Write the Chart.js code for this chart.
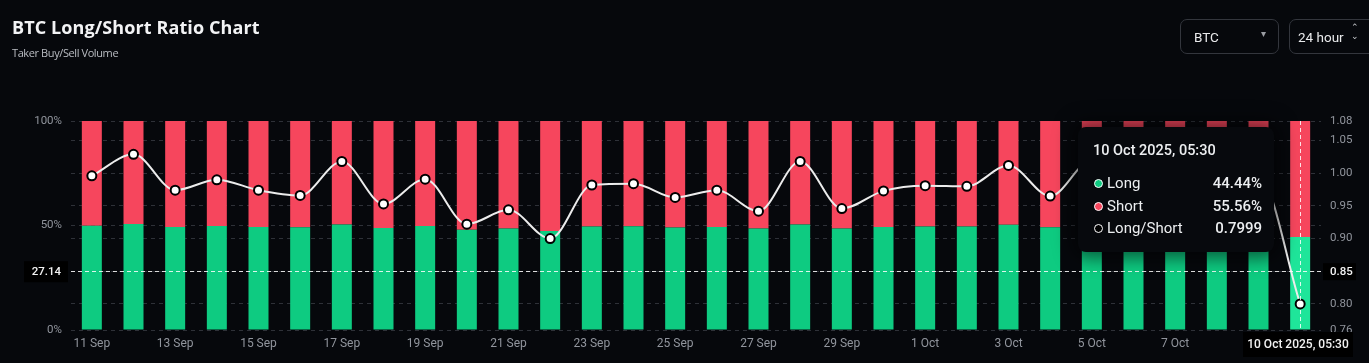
<!DOCTYPE html>
<html>
<head>
<meta charset="utf-8">
<script src="https://cdn.jsdelivr.net/npm/chart.js@4.4.1/dist/chart.umd.min.js"></script>
<style>
  html, body { margin: 0; padding: 0; background: #06080c; }
  body { width: 1369px; height: 363px; position: relative; overflow: hidden; font-family: Roboto, "Noto Sans", sans-serif; }
  #chartWrap { position: absolute; left: 0; top: 0; width: 1369px; height: 363px; }
  .title { position: absolute; left: 12px; top: 15px; color: #f2f3f5; font: 700 18px "Open Sans", sans-serif; letter-spacing: 0.1px; }
  .subtitle { position: absolute; left: 12px; top: 45px; color: #b9bcc2; font: 400 11px "Open Sans", sans-serif; letter-spacing: -0.4px; }
  .select { position: absolute; top: 19px; height: 35px; border: 1px solid #33363d; border-radius: 7px; color: #e9eaec; font: 400 13.5px Roboto, sans-serif; box-sizing: border-box; }
  .select span { position: absolute; top: 9px; }
  .tip { position: absolute; left: 1078px; top: 127px; width: 196px; height: 125px; background: #07090d; border-radius: 8px;
         box-shadow: 0 0 18px 6px rgba(0,0,0,0.55); color: #eceef0; font-family: Roboto, sans-serif; box-sizing: border-box; }
  .tip .t { position: absolute; left: 15px; top: 15px; font-size: 14.5px; font-weight: 500; }
  .tip .row { position: absolute; left: 15px; right: 12px; height: 18px; font-size: 15px; }
  .tip .row .dot { position: absolute; left: 1px; top: 5px; width: 7px; height: 7px; border-radius: 50%; border: 1.5px solid #fff; }
  .tip .row .lab { position: absolute; left: 14px; top: 0; }
  .tip .row .val { position: absolute; right: 0; top: 0; font-weight: 500; }
</style>
</head>
<body>
<div id="chartWrap"><canvas id="ratioChart" width="1369" height="363"></canvas></div>
<div class="title">BTC Long/Short Ratio Chart</div>
<div class="subtitle">Taker Buy/Sell Volume</div>
<div class="select" style="left:1180px;width:99px;"><span style="left:13px;">BTC</span><span style="left:80px;top:8px;color:#9a9da3;font-size:10px;">&#9662;</span></div>
<div class="select" style="left:1289px;width:90px;"><span style="left:8px;">24 hour</span><span style="left:61px;top:3px;color:#c9cbcf;font-size:9px;line-height:9px;">&#8963;<br>&#8964;</span></div>
<div class="tip" id="tip"></div>

<script>
const dates = ['11 Sep','12 Sep','13 Sep','14 Sep','15 Sep','16 Sep','17 Sep','18 Sep','19 Sep','20 Sep',
  '21 Sep','22 Sep','23 Sep','24 Sep','25 Sep','26 Sep','27 Sep','28 Sep','29 Sep','30 Sep',
  '1 Oct','2 Oct','3 Oct','4 Oct','5 Oct','6 Oct','7 Oct','8 Oct','9 Oct','10 Oct'];

const longPct = [49.90, 50.71, 49.34, 49.75, 49.34, 49.14, 50.45, 48.80, 49.77, 47.97,
  48.56, 47.37, 49.55, 49.60, 49.06, 49.34, 48.51, 50.45, 48.61, 49.32,
  49.52, 49.49, 50.30, 49.11, 50.50, 49.62, 49.37, 49.11, 49.87, 44.44];

const shortPct = [50.10, 49.29, 50.66, 50.25, 50.66, 50.86, 49.55, 51.20, 50.23, 52.03,
  51.44, 52.63, 50.45, 50.40, 50.94, 50.66, 51.49, 49.55, 51.39, 50.68,
  50.48, 50.51, 49.70, 50.89, 49.50, 50.38, 50.63, 50.89, 50.13, 55.56];

const lsRatio = [0.996, 1.029, 0.974, 0.990, 0.974, 0.966, 1.018, 0.953, 0.991, 0.922,
  0.944, 0.900, 0.982, 0.984, 0.963, 0.974, 0.942, 1.018, 0.946, 0.973,
  0.981, 0.980, 1.012, 0.965, 1.020, 0.985, 0.975, 0.965, 0.995, 0.7999];

const leftTicks = [0, 50, 100];
const rightTicks = [0.76, 0.80, 0.85, 0.90, 0.95, 1.00, 1.05, 1.08];

// hover state shown in the picture
const hoverIndex = 29;
const hoverTitle = '10 Oct 2025, 05:30';
const crossRatio = 0.85;
const crossLeftLabel = '27.14';

const green = '#0ecb81', greenHover = '#1fe59a', red = '#f6465d';
const gridColor = '#2e3138';
const tickColor = '#91959d';

const crosshair = {
  id: 'crosshair',
  afterDatasetsDraw(chart) {
    const {ctx, chartArea, scales} = chart;
    const x = scales.x.getPixelForValue(hoverIndex);
    const y = scales.y1.getPixelForValue(crossRatio);
    ctx.save();
    ctx.strokeStyle = 'rgba(255,255,255,0.85)';
    ctx.lineWidth = 1;
    ctx.setLineDash([4, 3]);
    ctx.beginPath();
    ctx.moveTo(chartArea.left, Math.round(y) + 0.5);
    ctx.lineTo(chartArea.right, Math.round(y) + 0.5);
    ctx.moveTo(Math.round(x) + 0.5, chartArea.top);
    ctx.lineTo(Math.round(x) + 0.5, chartArea.bottom);
    ctx.stroke();
    ctx.setLineDash([]);
    ctx.font = '500 11.5px Roboto';
    ctx.textBaseline = 'middle';
    // left label
    ctx.fillStyle = '#000';
    ctx.fillRect(24, y - 10, 44, 21);
    ctx.fillStyle = '#f2f2f2';
    ctx.textAlign = 'right';
    ctx.fillText(crossLeftLabel, 61, y + 0.5);
    // right label
    ctx.fillStyle = '#000';
    ctx.fillRect(chartArea.right + 2, y - 8, 33, 17);
    ctx.fillStyle = '#f2f2f2';
    ctx.textAlign = 'left';
    ctx.fillText(crossRatio.toFixed(2), chartArea.right + 9, y + 0.5);
    // bottom label
    ctx.fillStyle = '#000';
    ctx.fillRect(1243, chartArea.bottom + 2, 110, 25);
    ctx.fillStyle = '#f2f2f2';
    ctx.textAlign = 'center';
    ctx.font = '500 12px Roboto';
    ctx.fillText(hoverTitle, 1298, chartArea.bottom + 15);
    ctx.restore();
  }
};

const ctx = document.getElementById('ratioChart');

new Chart(ctx, {
  type: 'bar',
  data: {
    labels: dates,
    datasets: [
      {
        type: 'line',
        label: 'Long/Short',
        data: lsRatio,
        yAxisID: 'y1',
        borderColor: '#ececec',
        borderWidth: 2,
        cubicInterpolationMode: 'monotone',
        pointRadius: 4.5,
        pointBackgroundColor: '#ffffff',
        pointBorderColor: '#000000',
        pointBorderWidth: 2,
        order: 0
      },
      {
        label: 'Long',
        data: longPct,
        yAxisID: 'y',
        backgroundColor: longPct.map((v, i) => i === hoverIndex ? greenHover : green),
        categoryPercentage: 0.8,
        barPercentage: 0.6,
        order: 1
      },
      {
        label: 'Short',
        data: shortPct,
        yAxisID: 'y',
        backgroundColor: red,
        categoryPercentage: 0.8,
        barPercentage: 0.6,
        order: 1
      }
    ]
  },
  options: {
    responsive: false,
    animation: false,
    events: [],
    layout: { padding: { top: 121, left: 0, right: 0, bottom: 0 } },
    plugins: { legend: { display: false }, tooltip: { enabled: false } },
    scales: {
      x: {
        stacked: true,
        grid: { display: false, drawTicks: false },
        border: { display: false },
        afterFit(scale) { scale.height = 33; },
        ticks: {
          color: tickColor,
          font: { family: 'Roboto', size: 12 },
          padding: 7,
          autoSkip: false,
          maxRotation: 0,
          callback(v, i) { return i % 2 === 0 ? dates[i] : ''; }
        }
      },
      y: {
        position: 'left',
        stacked: true,
        min: 0,
        max: 100,
        afterBuildTicks(scale) { scale.ticks = leftTicks.map(v => ({ value: v })); },
        afterFit(scale) { scale.width = 71; },
        grid: { color: gridColor, drawTicks: false },
        border: { display: false, dash: [4, 4] },
        ticks: {
          color: tickColor,
          font: { family: 'Roboto', size: 11.5 },
          padding: 9,
          callback(v) { return v + '%'; }
        }
      },
      y1: {
        position: 'right',
        min: 0.76,
        max: 1.08,
        afterBuildTicks(scale) { scale.ticks = rightTicks.map(v => ({ value: v })); },
        afterFit(scale) { scale.width = 48; },
        grid: { color: gridColor, drawTicks: false },
        border: { display: false, dash: [4, 4] },
        ticks: {
          color: tickColor,
          font: { family: 'Roboto', size: 11.5 },
          padding: 9,
          callback(v) { return v.toFixed(2); }
        }
      }
    }
  },
  plugins: [crosshair]
});

// tooltip box, values read from the arrays at the hovered index
const tip = document.getElementById('tip');
const rows = [
  { name: 'Long', val: longPct[hoverIndex].toFixed(2) + '%', dot: green },
  { name: 'Short', val: shortPct[hoverIndex].toFixed(2) + '%', dot: red },
  { name: 'Long/Short', val: lsRatio[hoverIndex].toFixed(4), dot: '#000' }
];
let html = '<div class="t">' + hoverTitle + '</div>';
rows.forEach((r, i) => {
  html += '<div class="row" style="top:' + (47 + i * 22.5) + 'px"><span class="dot" style="background:' + r.dot + '"></span>' +
    '<span class="lab">' + r.name + '</span><span class="val">' + r.val + '</span></div>';
});
tip.innerHTML = html;
</script>
</body>
</html>
